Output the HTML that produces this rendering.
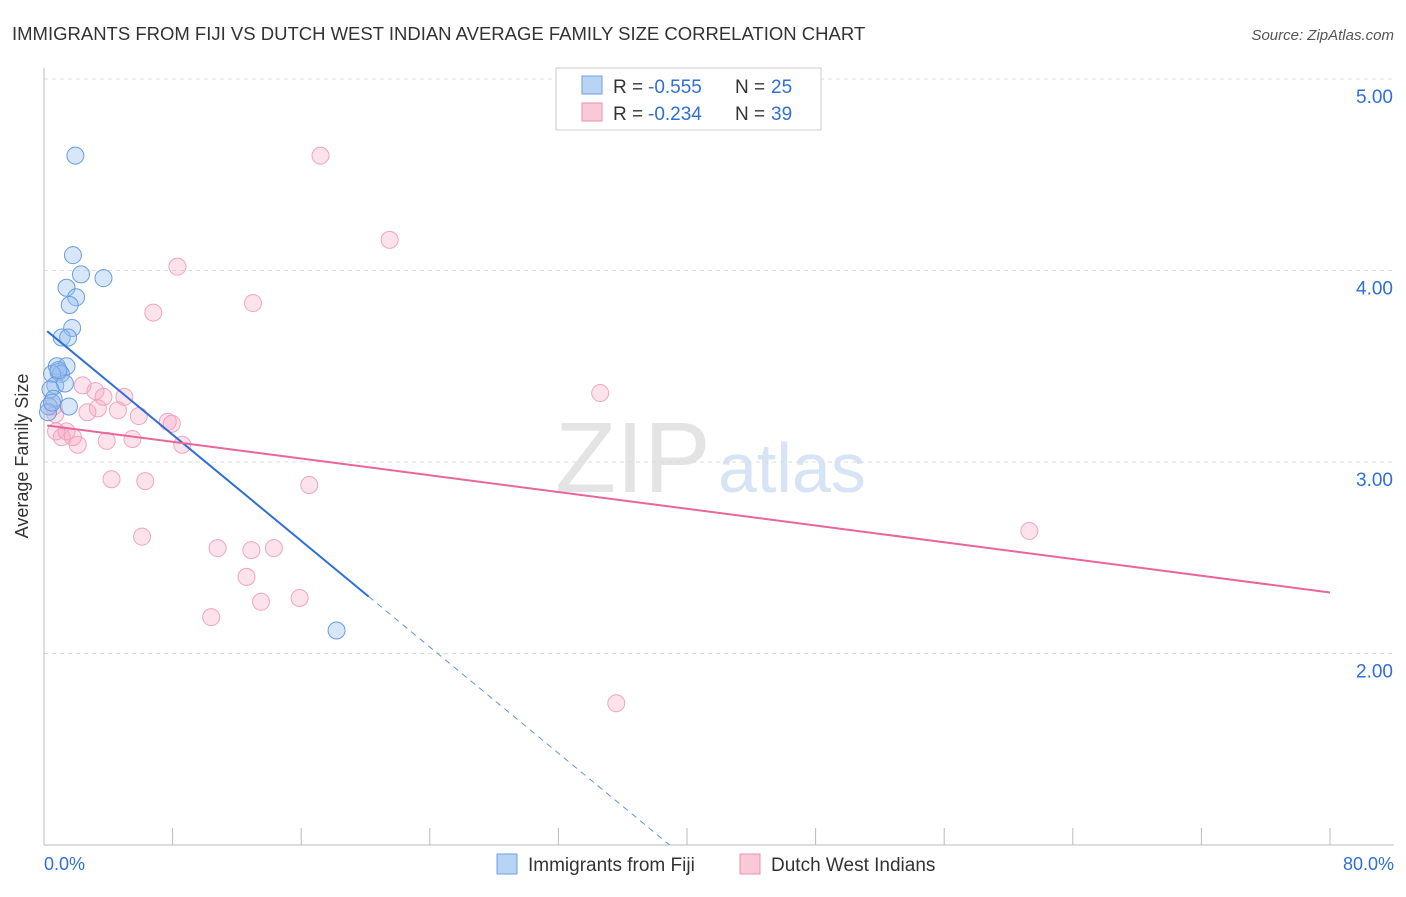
<!DOCTYPE html>
<html><head><meta charset="utf-8"><style>
body{margin:0;background:#fff;font-family:"Liberation Sans",sans-serif;}
svg text{font-family:"Liberation Sans",sans-serif;}
</style></head><body>
<svg id="c" width="1406" height="892" xmlns="http://www.w3.org/2000/svg">
<text x="12" y="40" font-size="18.5" fill="#333">IMMIGRANTS FROM FIJI VS DUTCH WEST INDIAN AVERAGE FAMILY SIZE CORRELATION CHART</text>
<text x="1394" y="40" font-size="15" fill="#555" font-style="italic" text-anchor="end">Source: ZipAtlas.com</text>
<text x="28" y="456" font-size="18" fill="#333" text-anchor="middle" transform="rotate(-90 28 456)">Average Family Size</text>
<text x="555" y="492" font-size="100" fill="#e4e4e4" font-family="Liberation Serif">ZIP</text>
<text x="718" y="492" font-size="70" fill="#d6e4f5">atlas</text>
<g id="grid"></g><g id="pts"></g><g id="lines"></g>
<g>
<rect x="556" y="68" width="265" height="62" fill="#fff" stroke="#ccc"/>
<rect x="582" y="76" width="20" height="18" fill="#b8d4f5" stroke="#6fa0e0"/>
<text x="613" y="93" font-size="19" fill="#333">R =</text>
<text x="648" y="93" font-size="19" fill="#2f6fd6">-0.555</text>
<text x="735" y="93" font-size="19" fill="#333">N =</text>
<text x="771" y="93" font-size="19" fill="#2f6fd6">25</text>
<rect x="582" y="103" width="20" height="18" fill="#f9c9d8" stroke="#ef8fb0"/>
<text x="613" y="120" font-size="19" fill="#333">R =</text>
<text x="648" y="120" font-size="19" fill="#2f6fd6">-0.234</text>
<text x="735" y="120" font-size="19" fill="#333">N =</text>
<text x="771" y="120" font-size="19" fill="#2f6fd6">39</text>
</g>
<g>
<rect x="497" y="854" width="20" height="20" fill="#b8d4f5" stroke="#6fa0e0"/>
<text x="528" y="871" font-size="19" fill="#333">Immigrants from Fiji</text>
<rect x="740" y="854" width="20" height="20" fill="#f9c9d8" stroke="#ef8fb0"/>
<text x="771" y="871" font-size="19" fill="#333">Dutch West Indians</text>
</g>
<text x="44" y="870" font-size="18" fill="#2f6fd6">0.0%</text>
<text x="1394" y="870" font-size="18" fill="#2f6fd6" text-anchor="end">80.0%</text>
</svg>
<script>
const yTicks=[2,3,4,5];
const yTickLabels=["2.00","3.00","4.00","5.00"];
const fijiX=[1.95,1.8,2.3,3.7,1.4,2.0,1.6,1.75,1.1,1.5,0.8,1.4,0.9,1.05,0.5,0.7,1.3,0.4,0.6,0.3,1.55,0.25,0.5,18.2,0.9];
const fijiY=[4.60,4.08,3.98,3.96,3.91,3.86,3.82,3.70,3.65,3.65,3.50,3.50,3.47,3.46,3.46,3.40,3.41,3.38,3.33,3.29,3.29,3.26,3.31,2.12,3.48];
const dutchX=[17.2,21.5,8.3,13.0,6.8,34.6,2.4,3.2,3.7,5.0,0.6,3.35,4.6,2.7,5.9,7.7,7.95,0.7,1.4,0.75,1.1,1.8,3.9,5.5,2.1,8.6,16.5,4.2,6.3,61.3,6.1,10.8,12.9,14.3,12.6,15.9,13.5,10.4,35.6];
const dutchY=[4.60,4.16,4.02,3.83,3.78,3.36,3.40,3.37,3.34,3.34,3.29,3.28,3.27,3.26,3.24,3.21,3.20,3.25,3.16,3.16,3.13,3.13,3.11,3.12,3.09,3.09,2.88,2.91,2.90,2.64,2.61,2.55,2.54,2.55,2.40,2.29,2.27,2.19,1.74];
const fijiFit=[3.697,-0.0693];
const dutchFit=[3.193,-0.01093];
const NS="http://www.w3.org/2000/svg";
const X=v=>44+v*16.075, Y=v=>79+(5-v)*191.5;
function mk(t,a,p){const e=document.createElementNS(NS,t);for(const k in a)e.setAttribute(k,a[k]);p.appendChild(e);return e;}
const g=document.getElementById('grid');
yTicks.forEach((t,i)=>{
 const l=mk('line',{x1:44,x2:1394,y1:Y(t),y2:Y(t),stroke:'#ddd','stroke-dasharray':'4,4'},g);
 
 
 const tx=mk('text',{x:1393,y:Y(t)+24,'font-size':19,fill:'#2f6fd6','text-anchor':'end'},g);
 tx.textContent=yTickLabels[i];
 
 
});
const ax=mk('line',{x1:44,x2:1394,y1:845,y2:845,stroke:'#bbb'},g);


const ay=mk('line',{x1:44,x2:44,y1:68,y2:845,stroke:'#bbb'},g);


for(let i=0;i<=10;i++){const t=mk('line',{x1:X(i*8),x2:X(i*8),y1:828,y2:845,stroke:'#bbb'},g);
 
 }
const P=document.getElementById('pts');
dutchX.forEach((x,i)=>{const c=mk('circle',{cx:X(x),cy:Y(dutchY[i]),r:8.5,fill:'rgba(245,160,190,0.3)',stroke:'#f0a5c0'},P);
 
 });
fijiX.forEach((x,i)=>{const c=mk('circle',{cx:X(x),cy:Y(fijiY[i]),r:8.5,fill:'rgba(150,190,240,0.38)',stroke:'#6a9ee2'},P);
 
 });
const L=document.getElementById('lines');
const f=x=>fijiFit[0]+fijiFit[1]*x, d=x=>dutchFit[0]+dutchFit[1]*x;
const xe=(1-fijiFit[0])/fijiFit[1];
let l1=mk('line',{x1:X(0.2),y1:Y(f(0.2)),x2:X(20.2),y2:Y(f(20.2)),stroke:'#2f6fd6','stroke-width':2},L);


let l2=mk('line',{x1:X(20.2),y1:Y(f(20.2)),x2:X(xe),y2:Y(f(xe)),stroke:'#5f95e0','stroke-width':1,'stroke-dasharray':'6,5'},L);


let l3=mk('line',{x1:X(0.2),y1:Y(d(0.2)),x2:X(80),y2:Y(d(80)),stroke:'#e8679a','stroke-width':2},L);


</script>
</body></html>
